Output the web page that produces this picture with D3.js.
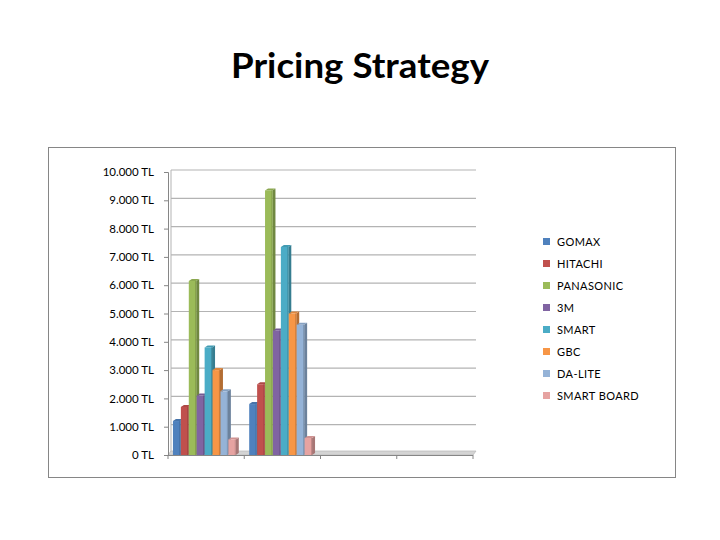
<!DOCTYPE html>
<html>
<head>
<meta charset="utf-8">
<script src="https://cdn.jsdelivr.net/npm/d3@7"></script>
<style>
  body { margin: 0; background: #fff; }
  text { font-family: Lato, "Open Sans", sans-serif; }
</style>
</head>
<body>
<div id="chart"></div>
<script>
// 4 categories, only the first two carry data
let categories = ["1", "2", "3", "4"];
let series = ["GOMAX", "HITACHI", "PANASONIC", "3M", "SMART", "GBC", "DA-LITE", "SMART BOARD"];
let colors = ["#4F81BD", "#C0504D", "#9BBB59", "#8064A2", "#4BACC6", "#F79646", "#95B3D7", "#E6A3A1"];
let values = [
    [1200, 1800, 0, 0],
    [1700, 2500, 0, 0],
    [6150, 9350, 0, 0],
    [2100, 4400, 0, 0],
    [3800, 7350, 0, 0],
    [3000, 5000, 0, 0],
    [2250, 4600, 0, 0],
    [550, 600, 0, 0]
];
let yTicks = [0, 1000, 2000, 3000, 4000, 5000, 6000, 7000, 8000, 9000, 10000];

function init() {
    let width = 720, height = 540;
    let dx = 3, dy = 2; // depth of the 3d look

    let svg = d3.select("#chart")
        .append("svg")
        .attr("width", width)
        .attr("height", height);

    svg.append("text")
        .attr("x", 360)
        .attr("y", 78)
        .attr("text-anchor", "middle")
        .attr("font-size", "35px")
        .attr("font-weight", "bold")
        .attr("textLength", 258)
        .attr("lengthAdjust", "spacingAndGlyphs")
        .attr("fill", "#000")
        .text("Pricing Strategy");

    // chart frame
    svg.append("rect")
        .attr("x", 48.5)
        .attr("y", 147.5)
        .attr("width", 627)
        .attr("height", 330)
        .attr("fill", "#fff")
        .attr("stroke", "#868686")
        .attr("stroke-width", 1);

    let x = d3.scaleBand()
        .domain(categories)
        .range([168, 473])
        .paddingInner(0.13)
        .paddingOuter(0.065);

    let xs = d3.scaleBand()
        .domain(series)
        .range([0, x.bandwidth() - dx]);

    let y = d3.scaleLinear()
        .domain([0, 10000])
        .range([455, 172]);

    let locale = d3.formatLocale({decimal: ",", thousands: ".", grouping: [3], currency: ["", " TL"]});
    let fmt = locale.format(",");

    let x0 = x.range()[0], x1 = x.range()[1];

    // back wall gridlines
    svg.append("g")
        .selectAll("line")
        .data(yTicks.slice(1))
        .enter()
        .append("line")
        .attr("x1", x0 + dx)
        .attr("x2", x1 + dx)
        .attr("y1", d => y(d) - dy)
        .attr("y2", d => y(d) - dy)
        .attr("stroke", "#b3b3b3")
        .attr("stroke-width", 1.2);

    svg.append("line")
        .attr("x1", x0 + dx).attr("x2", x0 + dx)
        .attr("y1", y(10000) - dy).attr("y2", y(0) - dy)
        .attr("stroke", "#b3b3b3");

    // floor
    svg.append("polygon")
        .attr("points", [[x0, y(0)], [x1, y(0)], [x1 + dx, y(0) - dy - 2], [x0 + dx, y(0) - dy - 2]].join(" "))
        .attr("fill", "#d4d4d4")
        .attr("stroke", "#bdbdbd")
        .attr("stroke-width", 0.8);

    // value axis
    let yAxis = svg.append("g")
        .attr("transform", "translate(" + x0 + ",0)")
        .call(d3.axisLeft(y)
            .tickValues(yTicks)
            .tickSize(4)
            .tickPadding(10)
            .tickFormat(d => fmt(d) + " TL"));
    yAxis.select(".domain").attr("stroke", "#868686");
    yAxis.selectAll(".tick line").attr("stroke", "#868686");
    yAxis.selectAll(".tick text")
        .attr("font-size", "11.5px")
        .attr("font-family", "Lato, sans-serif")
        .attr("fill", "#000");

    // category axis ticks at band edges
    let edges = categories.map(c => x(c) - x.step() * x.paddingInner() / 2);
    edges[0] = x0;
    edges.push(x1);
    svg.append("g")
        .selectAll("line")
        .data(edges)
        .enter()
        .append("line")
        .attr("x1", d => d).attr("x2", d => d)
        .attr("y1", y(0)).attr("y2", y(0) + 4)
        .attr("stroke", "#868686");
    svg.append("line")
        .attr("x1", x0).attr("x2", x1)
        .attr("y1", y(0) + 0.5).attr("y2", y(0) + 0.5)
        .attr("stroke", "#868686");

    // bars
    let bars = [];
    for (let s = 0; s < series.length; s++) {
        for (let c = 0; c < categories.length; c++) {
            if (values[s][c] > 0) bars.push({s: s, c: c, v: values[s][c]});
        }
    }
    bars.sort((a, b) => a.c - b.c || a.s - b.s);

    let w = xs.bandwidth() - 0.5;
    let g = svg.append("g");
    bars.forEach(function (b) {
        let bx = x(categories[b.c]) + xs(series[b.s]);
        let top = y(b.v), bottom = y(0);
        let col = d3.color(colors[b.s]);

        g.append("polygon")
            .attr("points", [[bx + w, top], [bx + w + dx, top - dy], [bx + w + dx, bottom - dy], [bx + w, bottom]].join(" "))
            .attr("fill", col.darker(0.9));

        g.append("polygon")
            .attr("points", [[bx, top], [bx + dx, top - dy], [bx + w + dx, top - dy], [bx + w, top]].join(" "))
            .attr("fill", col.darker(0.3));

        g.append("rect")
            .attr("x", bx)
            .attr("y", top)
            .attr("width", w)
            .attr("height", bottom - top)
            .attr("fill", col);

        g.append("line")
            .attr("x1", bx + w - 0.5).attr("x2", bx + w - 0.5)
            .attr("y1", top).attr("y2", bottom)
            .attr("stroke", col.darker(0.5))
            .attr("stroke-width", 1);
    });

    // legend
    let legend = svg.append("g")
        .selectAll("g")
        .data(series)
        .enter()
        .append("g")
        .attr("transform", (d, i) => "translate(543," + (242 + i * 22) + ")");

    legend.append("rect")
        .attr("x", 0)
        .attr("y", -4)
        .attr("width", 7)
        .attr("height", 7)
        .attr("fill", (d, i) => colors[i]);

    legend.append("text")
        .attr("x", 14)
        .attr("y", 4)
        .attr("font-size", "11px")
        .attr("letter-spacing", "0.4px")
        .attr("fill", "#000")
        .text(d => d);
}

init();
</script>
</body>
</html>
